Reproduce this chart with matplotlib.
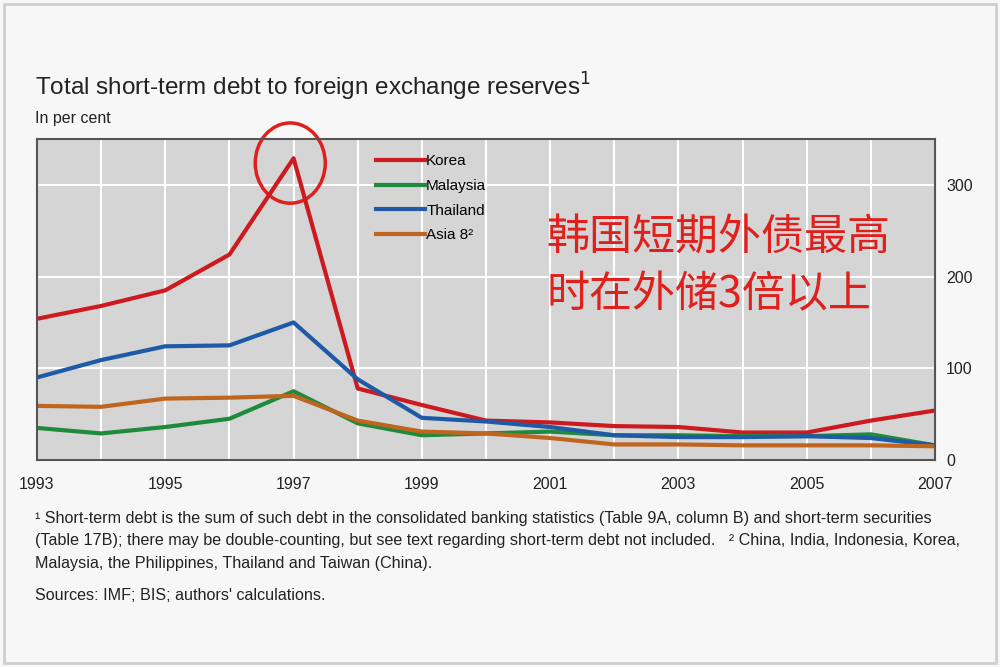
import matplotlib.pyplot as plt
from matplotlib.patches import Ellipse, Rectangle

years = list(range(1993, 2008))
korea = [154, 168, 185, 224, 329, 78, 60, 43, 41, 37, 36, 30, 30, 43, 54]
malaysia = [35, 29, 36, 45, 75, 40, 27, 29, 31, 27, 27, 26, 26, 28, 16]
thailand = [90, 109, 124, 125, 150, 88, 46, 42, 36, 27, 25, 25, 26, 24, 16]
asia8 = [59, 58, 67, 68, 70, 43, 31, 29, 24, 17, 17, 16, 16, 16, 15]
xticks = [1993, 1995, 1997, 1999, 2001, 2003, 2005, 2007]
yticks = [0, 100, 200, 300]

plt.rcParams['font.family'] = ['Liberation Sans', 'DejaVu Sans']

fig = plt.figure(figsize=(10, 6.67), dpi=100)
fig.patch.set_facecolor('#f7f7f7')
fig.add_artist(Rectangle((0.004, 0.006), 0.992, 0.988, transform=fig.transFigure,
                         fill=False, edgecolor='#cfcfcf', lw=2))

ax = fig.add_axes([0.037, 0.3103, 0.898, 0.4813])
ax.set_facecolor('#d5d5d5')

ax.plot(years, korea, color='#cc1a1f', lw=3, label='Korea')
ax.plot(years, malaysia, color='#1f8a3c', lw=3, label='Malaysia')
ax.plot(years, thailand, color='#1f5aa6', lw=3, label='Thailand')
ax.plot(years, asia8, color='#c0651f', lw=3, label='Asia 8²')

ax.set_xlim(1993, 2007)
ax.set_ylim(0, 350)
ax.set_xticks(years)
ax.set_xticklabels([str(y) if y in xticks else '' for y in years])
ax.set_yticks(yticks)
ax.yaxis.tick_right()
ax.grid(True, which='major', color='white', lw=1.5)
ax.tick_params(axis='both', length=0, labelsize=11.5, colors='#222222', pad=8)
ax.tick_params(axis='x', pad=12)
ax.set_axisbelow(True)
for s in ax.spines.values():
    s.set_color('#555555')
    s.set_linewidth(1.5)

leg = ax.legend(loc='upper left', bbox_to_anchor=(0.362, 0.995), frameon=False,
                fontsize=11, handlelength=3.2, handletextpad=0.1, labelspacing=0.7)

# red circle round the 1997 peak
ax.add_patch(Ellipse((0.282, 0.925), 0.078, 0.25, transform=ax.transAxes,
                     fill=False, edgecolor='#e0201c', lw=2.5, clip_on=False))

ax.text(0.567, 0.76, '韩国短期外债最高\n时在外储3倍以上', transform=ax.transAxes,
        fontsize=31, color='#e0201c', family=['Noto Sans CJK SC', 'DejaVu Sans'],
        weight='medium', va='top', ha='left', linespacing=1.4)

fig.text(0.035, 0.857, 'Total short-term debt to foreign exchange reserves$^1$',
         fontsize=17.5, color='#222222')
fig.text(0.035, 0.815, 'In per cent', fontsize=11.5, color='#222222')

note = ('¹ Short-term debt is the sum of such debt in the consolidated banking statistics (Table 9A, column B) and short-term securities\n'
        '(Table 17B); there may be double-counting, but see text regarding short-term debt not included.   ² China, India, Indonesia, Korea,\n'
        'Malaysia, the Philippines, Thailand and Taiwan (China).')
fig.text(0.035, 0.234, note, fontsize=11.6, color='#222222', va='top', linespacing=1.62)
fig.text(0.035, 0.1, 'Sources: IMF; BIS; authors\' calculations.', fontsize=11.6,
         color='#222222')

fig.savefig('out.png', dpi=100, facecolor=fig.get_facecolor())
